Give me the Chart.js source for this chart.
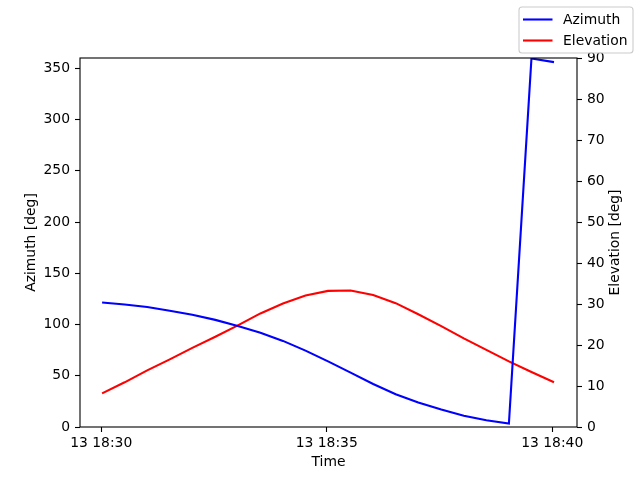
<!DOCTYPE html>
<html>
<head>
<meta charset="utf-8">
<title>Azimuth / Elevation</title>
<script src="https://cdn.jsdelivr.net/npm/chart.js@4"></script>
<style>
    body { margin: 0; background: #fff; }
    canvas { display: block; }
</style>
</head>
<body>
<canvas id="chart" width="640" height="480"></canvas>
<script>
// minutes after 13 18:30
const timeMinutes = [0.02, 0.52, 1.02, 1.52, 2.02, 2.53, 3.03, 3.53, 4.03, 4.53, 5.03,
    5.53, 6.03, 6.53, 7.03, 7.54, 8.04, 8.54, 9.04, 9.54, 10.04];
const azimuth = [121.5, 119.5, 117, 113.5, 109.5, 104.5, 98.5, 92, 84, 74.5, 64,
    53, 42, 32, 24, 17, 11, 6.5, 3.3, 359.5, 356];
const elevation = [8.2, 10.9, 13.8, 16.5, 19.3, 22.0, 24.8, 27.7, 30.1, 32.1, 33.2,
    33.3, 32.2, 30.2, 27.5, 24.6, 21.6, 18.8, 16.0, 13.4, 10.9];

const timeTickValues = [0, 5, 10];
const timeTickLabels = ["13 18:30", "13 18:35", "13 18:40"];
const azimuthTicks = [0, 50, 100, 150, 200, 250, 300, 350];
const elevationTicks = [0, 10, 20, 30, 40, 50, 60, 70, 80, 90];

const FONT = "DejaVu Sans";
const FONT_SIZE = 13.9;

function toPoints(xs, ys) {
    return xs.map((x, i) => ({ x: x, y: ys[i] }));
}

function fixedTicks(values) {
    return function (scale) {
        scale.ticks = values.map(v => ({ value: v }));
    };
}

const tickGrid = {
    display: true,
    drawOnChartArea: false,
    drawTicks: true,
    tickLength: 5,
    tickColor: "#000",
    tickWidth: 1.1
};

// matplotlib-like frame, right label and legend box
const decorations = {
    id: "decorations",
    afterDraw(chart) {
        const ctx = chart.ctx;
        const area = chart.chartArea;
        ctx.save();

        ctx.strokeStyle = "#000";
        ctx.lineWidth = 1.1;
        ctx.strokeRect(area.left, area.top, area.right - area.left, area.bottom - area.top);

        ctx.font = FONT_SIZE + "px '" + FONT + "'";
        ctx.fillStyle = "#000";
        ctx.textAlign = "center";
        ctx.textBaseline = "middle";
        ctx.translate(615, (area.top + area.bottom) / 2);
        ctx.rotate(-Math.PI / 2);
        ctx.fillText("Elevation [deg]", 0, 0);
        ctx.restore();

        ctx.save();
        const box = { x: 519, y: 7, w: 114, h: 46 };
        ctx.beginPath();
        ctx.roundRect(box.x, box.y, box.w, box.h, 3);
        ctx.fillStyle = "rgba(255,255,255,0.8)";
        ctx.fill();
        ctx.strokeStyle = "#cccccc";
        ctx.lineWidth = 1.1;
        ctx.stroke();

        const entries = [["Azimuth", "#0000ff"], ["Elevation", "#ff0000"]];
        ctx.font = FONT_SIZE + "px '" + FONT + "'";
        ctx.textAlign = "left";
        ctx.textBaseline = "middle";
        entries.forEach((entry, i) => {
            const y = 19.5 + i * 21;
            ctx.strokeStyle = entry[1];
            ctx.lineWidth = 2.1;
            ctx.beginPath();
            ctx.moveTo(523, y);
            ctx.lineTo(552.5, y);
            ctx.stroke();
            ctx.fillStyle = "#000";
            ctx.fillText(entry[0], 563, y + 1);
        });
        ctx.restore();
    }
};

const ctx = document.getElementById("chart").getContext("2d");
const chart = new Chart(ctx, {
    type: "line",
    data: {
        datasets: [
            {
                label: "Azimuth",
                data: toPoints(timeMinutes, azimuth),
                borderColor: "#0000ff",
                borderWidth: 2.1,
                pointRadius: 0,
                tension: 0,
                yAxisID: "y"
            },
            {
                label: "Elevation",
                data: toPoints(timeMinutes, elevation),
                borderColor: "#ff0000",
                borderWidth: 2.1,
                pointRadius: 0,
                tension: 0,
                yAxisID: "y1"
            }
        ]
    },
    options: {
        responsive: false,
        animation: false,
        devicePixelRatio: 1,
        layout: { padding: { top: 58, left: 0, right: 0, bottom: 0 } },
        plugins: {
            legend: { display: false },
            tooltip: { enabled: false }
        },
        scales: {
            x: {
                type: "linear",
                min: -0.47,
                max: 10.55,
                grid: tickGrid,
                border: { display: false },
                afterBuildTicks: fixedTicks(timeTickValues),
                afterFit(scale) { scale.height = 53; },
                ticks: {
                    color: "#000",
                    padding: 3,
                    maxRotation: 0,
                    font: { family: FONT, size: FONT_SIZE },
                    callback: function (value) {
                        const i = timeTickValues.indexOf(value);
                        return i >= 0 ? timeTickLabels[i] : "";
                    }
                },
                title: {
                    display: true,
                    text: "Time",
                    color: "#000",
                    font: { family: FONT, size: FONT_SIZE },
                    padding: { top: 0, bottom: 9.7 }
                }
            },
            y: {
                type: "linear",
                position: "left",
                min: 0,
                max: 360,
                grid: tickGrid,
                border: { display: false },
                afterBuildTicks: fixedTicks(azimuthTicks),
                afterFit(scale) { scale.width = 80; },
                ticks: {
                    color: "#000",
                    padding: 5,
                    font: { family: FONT, size: FONT_SIZE }
                },
                title: {
                    display: true,
                    text: "Azimuth [deg]",
                    color: "#000",
                    font: { family: FONT, size: FONT_SIZE },
                    padding: { top: 22.7, bottom: 0 }
                }
            },
            y1: {
                type: "linear",
                position: "right",
                min: 0,
                max: 90,
                grid: tickGrid,
                border: { display: false },
                afterBuildTicks: fixedTicks(elevationTicks),
                afterFit(scale) { scale.width = 63; },
                ticks: {
                    color: "#000",
                    padding: 5,
                    font: { family: FONT, size: FONT_SIZE }
                }
            }
        }
    },
    plugins: [decorations]
});
</script>
</body>
</html>
